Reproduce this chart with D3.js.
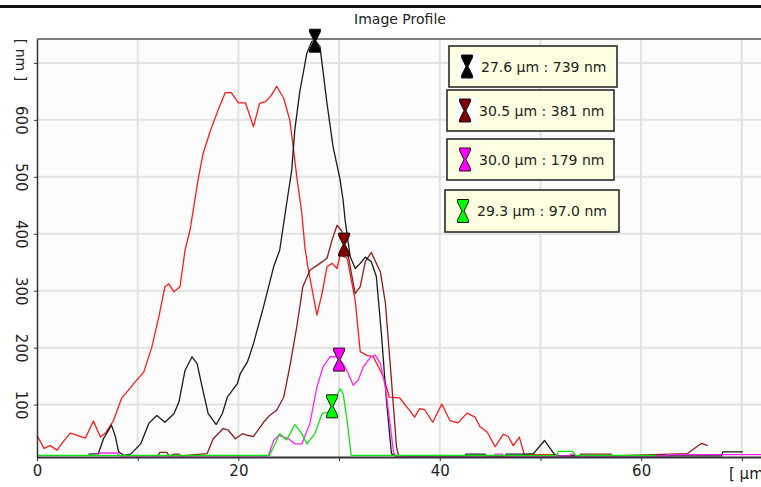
<!DOCTYPE html>
<html>
<head>
<meta charset="utf-8">
<script src="https://cdn.jsdelivr.net/npm/d3@7"></script>
<style>
  html, body { margin: 0; padding: 0; background: #fff; overflow: hidden; }
  svg { display: block; font-family: "DejaVu Sans", Verdana, sans-serif; }
</style>
</head>
<body>
<div id="chart"></div>
<script>
// profile data: [position in µm, height in nm]
const redProfile = [[0,46],[0.7,23],[1.3,28],[2.0,20],[2.6,35],[3.3,50],[4.0,46],[4.8,41],[5.6,71],[6.3,43],[6.8,50],[7.6,72],[8.4,111],[9.2,128],[9.9,143],[10.6,157],[11.4,201],[12.1,254],[12.7,307],[13.1,312],[13.6,298],[14.2,307],[14.7,371],[15.2,407],[16.0,495],[16.5,541],[17.2,580],[18.0,618],[18.7,648],[19.3,648],[20.0,630],[20.7,630],[21.5,588],[22.1,629],[22.7,632],[23.3,644],[23.8,659],[24.5,638],[25.1,600],[25.4,559],[25.8,500],[26.3,436],[26.6,377],[26.9,342],[27.8,257],[28.3,295],[28.8,342],[29.3,348],[29.8,339],[30.1,363],[30.8,357],[31.6,283],[32.1,193],[32.7,187],[33.4,184],[34.4,149],[35.0,113],[36.0,112],[37.0,90],[37.5,78],[38.0,93],[38.5,91],[39.3,69],[40.2,101],[41.0,72],[41.8,68],[42.7,85],[43.5,78],[44.0,61],[44.7,52],[45.5,26],[46.3,48],[46.8,44],[47.3,28],[47.9,43],[48.4,12],[51.6,12]];

const blackProfile = [[5.1,13],[6.1,14],[6.6,40],[7.4,64],[7.8,43],[8.1,17],[8.6,11],[9.3,13],[10.3,31],[11.1,67],[11.9,81],[12.7,69],[13.6,84],[14.1,105],[14.7,160],[15.4,184],[15.9,172],[16.4,131],[17.0,84],[17.8,65],[18.4,84],[18.9,113],[19.9,137],[20.2,155],[20.9,175],[21.5,207],[22.5,272],[23.5,342],[24.1,371],[24.8,454],[25.3,512],[25.6,582],[26.1,650],[26.5,688],[26.8,717],[27.3,738],[27.6,739],[28.1,729],[28.8,629],[29.4,553],[30.1,495],[30.4,459],[30.6,424],[31.1,360],[31.6,339],[32.1,348],[32.6,359],[33.2,351],[33.7,325],[34.2,225],[34.7,108],[35.2,14],[35.6,10],[42.5,10],[42.6,13],[44.5,13],[44.6,10],[46.5,10],[46.6,13],[48.6,13],[49.3,14],[50.4,37],[51.4,12],[52.0,10],[68.0,10],[68.1,17],[70.1,17]];

const brownProfile = [[12.0,10],[12.2,16],[12.9,16],[13.1,10],[13.7,13],[14.1,13],[14.3,10],[16.9,14],[17.5,40],[18.5,58],[19.0,55],[19.7,40],[20.4,49],[20.9,46],[21.5,44],[22.5,69],[23.1,81],[23.8,90],[24.5,113],[25.1,166],[25.8,237],[26.4,307],[27.1,336],[28.1,348],[28.8,357],[29.3,389],[29.8,415],[30.3,404],[30.5,381],[30.8,371],[31.6,295],[32.1,307],[32.6,351],[33.2,367],[34.1,333],[34.6,278],[35.2,143],[35.7,26],[35.9,11],[36.5,10],[53.9,10],[54.0,13],[57.0,13],[57.1,10],[64.6,14],[66.0,32],[66.6,28]];

const magentaProfile = [[6.0,10],[6.2,15],[8.0,15],[8.2,10],[22.8,10],[23.0,11],[23.5,37],[24.0,46],[25.0,40],[25.6,31],[26.3,31],[27.1,67],[27.8,131],[28.4,166],[29.1,184],[29.8,184],[30.4,172],[30.9,155],[31.4,134],[31.9,143],[32.4,166],[33.1,183],[33.6,187],[34.1,172],[34.6,131],[35.1,61],[35.4,17],[35.6,10],[45.4,10],[45.5,13],[46.2,13],[46.3,10],[52.9,10],[53.0,13],[53.4,13],[53.5,10],[62.5,10],[62.6,12],[72.0,12]];

const greenProfile = [[0,11],[23.1,11],[23.8,37],[24.1,49],[24.8,38],[25.6,65],[26.3,49],[26.8,31],[27.6,49],[28.3,84],[28.9,87],[29.3,97],[29.6,108],[30.1,128],[30.4,119],[30.8,72],[31.1,26],[31.2,11],[51.6,11],[51.8,18],[53.2,18],[53.5,11],[61.5,11]];

// cursor markers (black, brown, magenta, green)
const markerX = [27.6, 30.5, 30.0, 29.3];
const markerY = [739, 381, 179, 97];

const xTicks = [0, 10, 20, 30, 40, 50, 60, 70];
const xTickLabels = ['0', '', '20', '', '40', '', '60', ''];
const yTicks = [100, 200, 300, 400, 500, 600, 700];
const yTickLabels = ['100', '200', '300', '400', '500', '600', ''];

// styles
const markerColors = ['#000000', '#800000', '#ff00ff', '#00ff00'];
const boxes = [
  { x: 449, y: 46, w: 168, h: 41 },
  { x: 447, y: 90, w: 167, h: 41 },
  { x: 447, y: 139, w: 167, h: 41 },
  { x: 445, y: 190, w: 174, h: 42 }
];

const W = 761, H = 487;
const x = d3.scaleLinear().domain([0, 72]).range([37, 762]);
const y = d3.scaleLinear().domain([8, 742]).range([457, 39]);

const svg = d3.select('#chart').append('svg')
  .attr('width', W).attr('height', H)
  .attr('viewBox', `0 0 ${W} ${H}`);

svg.append('rect').attr('width', W).attr('height', H).attr('fill', '#fff');
svg.append('rect').attr('x', 37).attr('y', 39).attr('width', W - 37).attr('height', 418).attr('fill', '#fcfcfc');

// window border + title
svg.append('rect').attr('x', 0).attr('y', 5).attr('width', W).attr('height', 3).attr('fill', '#111');
svg.append('text').attr('x', 400).attr('y', 24).attr('text-anchor', 'middle')
  .attr('font-size', 14).attr('fill', '#222').text('Image Profile');

// grid
svg.append('g').selectAll('line').data(yTicks).enter().append('line')
  .attr('x1', 37).attr('x2', W).attr('y1', d => y(d)).attr('y2', d => y(d))
  .attr('stroke', '#e2e2e2').attr('stroke-width', 2);
svg.append('g').selectAll('line').data(xTicks.slice(1)).enter().append('line')
  .attr('x1', d => x(d)).attr('x2', d => x(d)).attr('y1', 39).attr('y2', 457)
  .attr('stroke', '#e2e2e2').attr('stroke-width', 2);

// top frame line
svg.append('line').attr('x1', 37).attr('x2', W).attr('y1', 39).attr('y2', 39)
  .attr('stroke', '#555').attr('stroke-width', 1.5);

// curves
const line = d3.line().x(d => x(d[0])).y(d => y(d[1]));
const series = [
  { data: redProfile, color: '#ff1a1a' },
  { data: brownProfile, color: '#8b1c1c' },
  { data: blackProfile, color: '#1a1a1a' },
  { data: magentaProfile, color: '#ff22ff' },
  { data: greenProfile, color: '#11e011' }
];
svg.append('g').selectAll('path').data(series).enter().append('path')
  .attr('d', d => line(d.data))
  .attr('fill', 'none')
  .attr('stroke', d => d.color)
  .attr('stroke-width', 1.3)
  .attr('stroke-linejoin', 'round');

// axes
const xAxis = svg.append('g').attr('transform', 'translate(0,457)')
  .call(d3.axisBottom(x).tickValues(xTicks).tickSize(4).tickSizeOuter(0)
    .tickFormat((d, i) => xTickLabels[i]));
xAxis.select('.domain').attr('stroke', '#333').attr('stroke-width', 2);
xAxis.selectAll('.tick line').attr('stroke', '#333');
xAxis.selectAll('.tick text').attr('font-size', 15).attr('fill', '#222')
  .attr('font-family', '"DejaVu Sans", Verdana, sans-serif').attr('y', 8);

const yAxis = svg.append('g').attr('transform', 'translate(37,0)')
  .call(d3.axisLeft(y).tickValues(yTicks).tickSize(3).tickSizeOuter(0)
    .tickFormat((d, i) => yTickLabels[i]));
yAxis.select('.domain').attr('stroke', '#333').attr('stroke-width', 1.5);
yAxis.selectAll('.tick line').attr('stroke', '#333');
yAxis.selectAll('.tick text')
  .attr('x', null).attr('dy', null)
  .attr('transform', 'translate(-16,0) rotate(90)')
  .attr('text-anchor', 'middle').attr('dominant-baseline', 'central')
  .attr('font-size', 15).attr('fill', '#222')
  .attr('font-family', '"DejaVu Sans", Verdana, sans-serif');

// unit labels
svg.append('text').attr('transform', 'translate(21,60) rotate(90)')
  .attr('text-anchor', 'middle').attr('dominant-baseline', 'central')
  .attr('font-size', 14).attr('fill', '#222').text('[ nm ]');
svg.append('text').attr('x', 729).attr('y', 479)
  .attr('font-size', 15).attr('fill', '#222').text('[ µm ]');

// hourglass marker shape
const hourglass = 'M-5.5,-11.5H5.5V-9L1,0L5.5,9V11.5H-5.5V9L-1,0L-5.5,-9Z';

svg.append('g').selectAll('path').data(markerX).enter().append('path')
  .attr('d', hourglass)
  .attr('transform', (d, i) => `translate(${x(d)},${y(markerY[i])})`)
  .attr('fill', (d, i) => markerColors[i])
  .attr('stroke', '#111').attr('stroke-width', 1);

// cursor readout boxes
const fmt = d3.format('.3r');
const lg = svg.append('g').selectAll('g').data(boxes).enter().append('g')
  .attr('transform', d => `translate(${d.x},${d.y})`);
lg.append('rect').attr('width', d => d.w).attr('height', d => d.h)
  .attr('fill', '#ffffe1').attr('stroke', '#2b2b2b').attr('stroke-width', 1.6);
lg.append('rect').attr('x', 9).attr('y', d => d.h / 2 - 13).attr('width', 22).attr('height', 26)
  .attr('fill', (d, i) => i < 2 ? '#fff' : 'none');
lg.append('path').attr('d', hourglass)
  .attr('transform', d => `translate(18,${d.h / 2})`)
  .attr('fill', (d, i) => markerColors[i])
  .attr('stroke', '#111').attr('stroke-width', 1);
lg.append('text').attr('x', 32).attr('y', d => d.h / 2)
  .attr('dominant-baseline', 'central')
  .attr('font-size', 14).attr('fill', '#222')
  .text((d, i) => `${fmt(markerX[i])} µm : ${fmt(markerY[i])} nm`);
</script>
</body>
</html>
